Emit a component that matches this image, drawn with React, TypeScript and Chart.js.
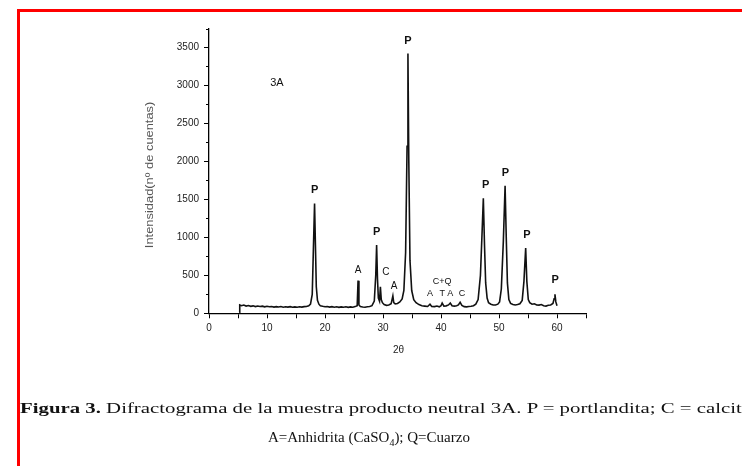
import React, { useEffect, useRef } from 'react';
import { Chart, registerables } from 'chart.js';

Chart.register(...registerables);

// ---- data ----
const twoTheta = [
  5.2, 5.3, 5.6, 6.0, 6.4, 6.8, 7.2, 7.6, 8.0, 8.4, 8.8, 9.2, 9.6, 10.0, 10.4, 10.8,
  11.2, 11.6, 12.0, 12.4, 12.8, 13.2, 13.6, 14.0, 14.4, 14.8, 15.2, 15.6, 16.0, 16.4,
  16.8, 17.2, 17.5, 17.8, 17.95, 18.2, 18.35, 18.5, 18.7, 18.95, 19.2, 19.6, 20.0,
  20.4, 20.8, 21.2, 21.6, 22.0, 22.4, 22.8, 23.2, 23.6, 24.0, 24.4, 24.8, 25.2, 25.55,
  25.7, 25.85, 26.1, 26.5, 26.9, 27.3, 27.7, 28.1, 28.5, 28.75, 28.9, 29.05, 29.2,
  29.4, 29.55, 29.7, 29.9, 30.2, 30.6, 31.0, 31.4, 31.7, 31.85, 32.1, 32.5, 32.9,
  33.3, 33.6, 33.9, 34.15, 34.3, 34.45, 34.65, 34.95, 35.3, 35.7, 36.2, 36.7, 37.2,
  37.7, 38.1, 38.4, 38.9, 39.3, 39.7, 40.0, 40.2, 40.5, 40.9, 41.3, 41.6, 41.9, 42.3,
  42.7, 43.0, 43.3, 43.6, 44.0, 44.4, 44.8, 45.2, 45.6, 46.0, 46.4, 46.8, 47.1, 47.3,
  47.5, 47.7, 47.95, 48.2, 48.6, 49.0, 49.4, 49.8, 50.1, 50.4, 50.75, 51.05, 51.25,
  51.45, 51.7, 52.0, 52.4, 52.8, 53.2, 53.6, 54.0, 54.3, 54.6, 54.8, 55.05, 55.3,
  55.7, 56.1, 56.5, 56.9, 57.3, 57.7, 58.1, 58.5, 58.9, 59.3, 59.5, 59.65, 59.8, 60.0
];
const counts = [
  15, 110, 100, 108, 95, 102, 92, 98, 88, 96, 90, 94, 85, 92, 86, 90,
  82, 88, 84, 90, 80, 86, 82, 88, 80, 85, 80, 86, 82, 88,
  90, 98, 120, 250, 700, 1444, 900, 350, 170, 120, 100, 92, 86,
  90, 82, 88, 80, 86, 78, 84, 80, 86, 78, 84, 80, 88, 100,
  430, 110, 90, 84, 80, 86, 90, 100, 160, 500, 900, 450, 200,
  160, 350, 180, 140, 115, 105, 110, 125, 230, 140, 125, 130, 150,
  190, 300, 800, 2200, 3420, 2000, 700, 300, 180, 140, 115, 100, 95,
  90, 120, 90, 88, 95, 85, 100, 135, 95, 98, 110, 135, 100, 95,
  100, 110, 145, 105, 88, 85, 90, 92, 100, 120, 180, 500, 1100, 1515,
  900, 400, 200, 140, 120, 110, 110, 120, 150, 320, 950, 1680, 1000,
  400, 180, 130, 115, 110, 115, 125, 170, 420, 860, 420, 180, 140,
  120, 125, 110, 108, 115, 100, 95, 105, 110, 130, 190, 250, 150, 100
];

const xTickValues = [0, 10, 20, 30, 40, 50, 60];
const yTickValues = [0, 500, 1000, 1500, 2000, 2500, 3000, 3500];

const peakLabels = ['P', 'A', 'P', 'C', 'A', 'P', 'C+Q', 'A', 'T', 'A', 'C', 'P', 'P', 'P', 'P'];
const peakLabelX = [18.2, 25.7, 28.9, 30.5, 31.9, 34.3, 40.2, 38.1, 40.2, 41.6, 43.6, 47.7, 51.1, 54.8, 59.7];
const peakLabelY = [1625, 570, 1070, 545, 350, 3580, 415, 265, 265, 265, 265, 1690, 1850, 1030, 440];

const sampleName = '3A';
const sampleX = 11.7;
const sampleY = 3035;

const xTitle = '2θ';
const yTitle = 'Intensidad(nº de cuentas)';

const captionBold = 'Figura 3.';
const captionLine1 = ' Difractograma de la muestra producto neutral 3A. P = portlandita; C = calcita';
const captionLine2a = 'A=Anhidrita (CaSO';
const captionLine2sub = '4';
const captionLine2b = '); Q=Cuarzo';

const annotate = {
  id: 'annotate',
  afterDraw(chart: any) {
    const { ctx, scales } = chart;
    const xs = scales.x;
    const ys = scales.y;
    ctx.save();
    // minor y ticks (shorter)
    ctx.strokeStyle = '#000';
    ctx.lineWidth = 1;
    for (let v = 250; v <= 3750; v += 500) {
      const py = Math.round(ys.getPixelForValue(v)) + 0.5;
      ctx.beginPath();
      ctx.moveTo(xs.left - 3, py);
      ctx.lineTo(xs.left, py);
      ctx.stroke();
    }
    ctx.fillStyle = '#111';
    ctx.textAlign = 'center';
    ctx.textBaseline = 'middle';
    peakLabels.forEach((t, i) => {
      const big = t === 'P';
      const small = i >= 6 && i <= 10;
      ctx.font = big
        ? 'bold 11px "Liberation Sans", Arial, sans-serif'
        : small
        ? '9px "Liberation Sans", Arial, sans-serif'
        : '10px "Liberation Sans", Arial, sans-serif';
      ctx.fillText(t, xs.getPixelForValue(peakLabelX[i]), ys.getPixelForValue(peakLabelY[i]));
    });
    ctx.font = '11px "Liberation Sans", Arial, sans-serif';
    ctx.fillText(sampleName, xs.getPixelForValue(sampleX), ys.getPixelForValue(sampleY));
    // axis titles
    ctx.fillStyle = '#222';
    ctx.font = '10px "Liberation Sans", Arial, sans-serif';
    ctx.fillText(xTitle, (xs.left + xs.right) / 2 + 1, ys.bottom + 37);
    ctx.save();
    ctx.translate(xs.left - 59, (ys.top + ys.bottom) / 2 + 4);
    ctx.rotate(-Math.PI / 2);
    ctx.fillStyle = '#555';
    ctx.font = '11.5px "Liberation Sans", Arial, sans-serif';
    ctx.scale(1.12, 1);
    ctx.fillText(yTitle, 0, 0);
    ctx.restore();
    ctx.restore();
  },
};

export default function App() {
  const ref = useRef<HTMLCanvasElement | null>(null);
  useEffect(() => {
    if (!ref.current) return;
    const chart = new Chart(ref.current, {
      type: 'line',
      data: {
        datasets: [
          {
            data: twoTheta.map((x, i) => ({ x, y: counts[i] })),
            borderColor: '#111',
            borderWidth: 1.6,
            pointRadius: 0,
            tension: 0,
            fill: false,
          },
        ],
      },
      options: {
        animation: false,
        responsive: false,
        maintainAspectRatio: false,
        devicePixelRatio: 1,
        layout: { padding: { left: 0, top: 28.5, right: 156, bottom: 122.7 } },
        plugins: { legend: { display: false }, tooltip: { enabled: false }, title: { display: false } },
        scales: {
          x: {
            type: 'linear',
            min: 0,
            max: 65,
            afterFit: (s: any) => { s.height = 30; },
            afterBuildTicks: (s: any) => {
              const t = [];
              for (let v = 0; v <= 65; v += 5) t.push({ value: v });
              s.ticks = t;
            },
            ticks: {
              autoSkip: false,
              maxRotation: 0,
              padding: 4,
              color: '#222',
              font: { family: '"Liberation Sans", Arial, sans-serif', size: 10 },
              callback: (v: any) => (xTickValues.includes(v) ? String(v) : ''),
            },
            grid: { drawOnChartArea: false, drawTicks: true, tickLength: 5, tickColor: '#000', tickWidth: 1 },
            border: { display: true, color: '#000', width: 1.3 },
          },
          y: {
            type: 'linear',
            min: 0,
            max: 3750,
            afterFit: (s: any) => { s.width = 209; },
            afterBuildTicks: (s: any) => {
              const t = [];
              for (let v = 0; v <= 3750; v += 250) t.push({ value: v });
              s.ticks = t;
            },
            ticks: {
              autoSkip: false,
              padding: 5,
              color: '#222',
              font: { family: '"Liberation Sans", Arial, sans-serif', size: 10 },
              callback: (v: any) => (yTickValues.includes(v) ? String(v) : ''),
            },
            grid: {
              drawOnChartArea: false,
              drawTicks: true,
              tickLength: 5,
              tickColor: (c: any) => (c.tick && c.tick.value % 500 === 0 ? '#000' : 'rgba(0,0,0,0)'),
              tickWidth: 1,
            },
            border: { display: true, color: '#000', width: 1.3 },
          },
        },
      },
      plugins: [annotate],
    });
    return () => chart.destroy();
  }, []);

  return (
    <div style={{ position: 'absolute', left: 0, top: 0, width: 742, height: 466, overflow: 'hidden', background: '#fff' }}>
      <div style={{ position: 'absolute', left: 17, top: 9, width: 800, height: 500, borderLeft: '3px solid #ff0000', borderTop: '3px solid #ff0000', boxSizing: 'border-box' }} />
      <canvas ref={ref} width={742} height={466} style={{ position: 'absolute', left: 0, top: 0, width: 742, height: 466 }} />
      <div style={{ position: 'absolute', left: 20, top: 399, whiteSpace: 'nowrap', fontFamily: '"Liberation Serif", "Times New Roman", serif', fontSize: 15.3, lineHeight: '18px', color: '#111', transform: 'scaleX(1.36)', transformOrigin: 'left top' }}>
        <b>{captionBold}</b>{captionLine1}
      </div>
      <div style={{ position: 'absolute', left: 268, top: 428, whiteSpace: 'nowrap', fontFamily: '"Liberation Serif", "Times New Roman", serif', fontSize: 15, lineHeight: '18px', color: '#111' }}>
        {captionLine2a}<sub style={{ fontSize: 10 }}>{captionLine2sub}</sub>{captionLine2b}
      </div>
    </div>
  );
}
